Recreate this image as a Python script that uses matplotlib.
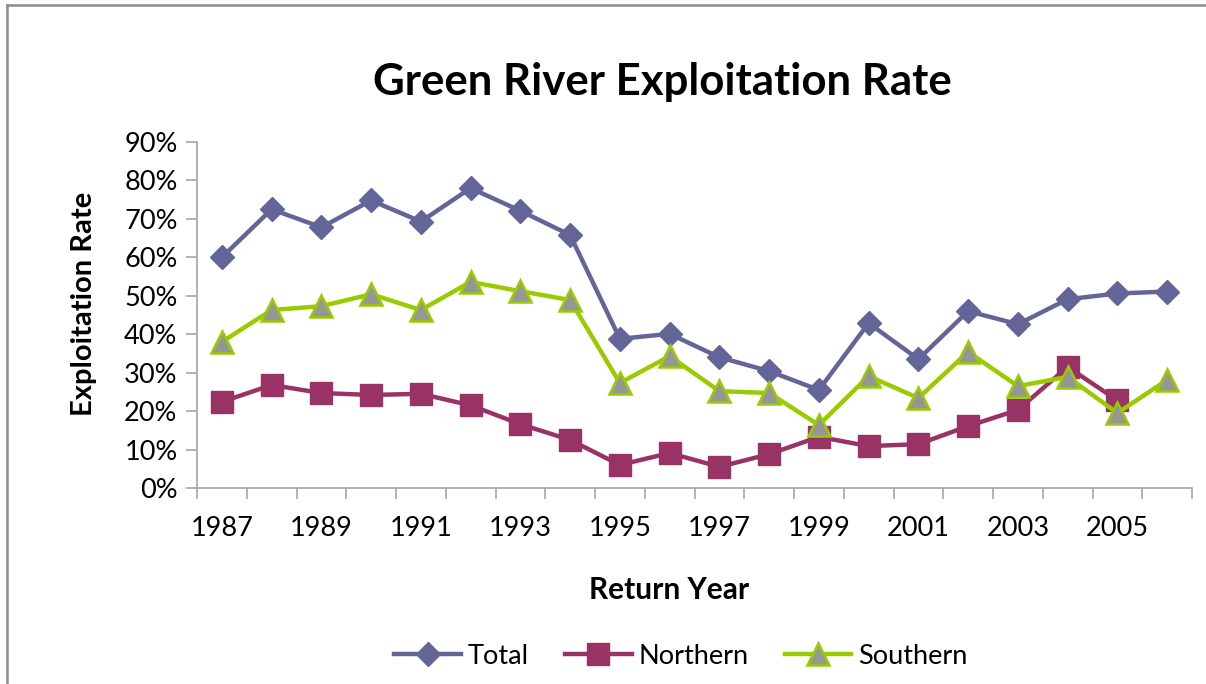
import matplotlib
matplotlib.use("Agg")
import matplotlib.pyplot as plt
from matplotlib.lines import Line2D
from matplotlib.ticker import FuncFormatter, FixedLocator

plt.rcParams['font.family'] = ['Lato', 'DejaVu Sans']

years = list(range(1987, 2007))
total = [60.0, 72.5, 67.8, 74.8, 69.3, 78.0, 72.1, 65.8, 38.8, 40.1, 34.0, 30.4, 25.5, 42.9, 33.5, 46.0, 42.6, 49.1, 50.6, 51.1]
northern = [22.4, 26.8, 24.7, 24.2, 24.5, 21.5, 16.6, 12.5, 6.0, 9.1, 5.5, 8.8, 13.3, 10.9, 11.4, 16.1, 20.3, 31.5, 22.8, None]
southern = [38.0, 46.3, 47.3, 50.4, 46.3, 53.6, 51.2, 48.9, 27.3, 34.3, 25.2, 24.7, 16.4, 29.1, 23.4, 35.4, 26.5, 28.9, 19.5, 28.1]
year_labels = [str(y) if (y - 1987) % 2 == 0 else "" for y in years]

fig = plt.figure(figsize=(12.06, 6.84), dpi=100)
ax = fig.add_axes([197/1206, 1-488/684, (1192-197)/1206, (488-142)/684])

x = list(range(len(years)))
ax.plot(x, total, color='#636599', lw=3.2, marker='D', ms=12, mfc='#636599', mec='#636599', label='Total', zorder=3)
xn = [i for i, v in zip(x, northern) if v is not None]
yn = [v for v in northern if v is not None]
ax.plot(xn, yn, color='#993366', lw=3.2, marker='s', ms=15.5, mfc='#993366', mec='#993366', label='Northern', zorder=2)
ax.plot(x, southern, color='#99cc00', lw=3.2, marker='^', ms=16, mfc='#969696', mec='#99cc00', mew=1.8, label='Southern', zorder=4)

ax.set_xlim(-0.5, len(years) - 0.5)
ax.set_ylim(0, 90)
ax.set_yticks(range(0, 91, 10))
ax.yaxis.set_major_formatter(FuncFormatter(lambda v, p: f"{int(v)}%"))
ax.set_xticks(x)
ax.set_xticklabels(year_labels)
ax.xaxis.set_minor_locator(FixedLocator([i - 0.5 for i in range(len(years) + 1)]))
ax.tick_params(axis='x', which='major', length=0, pad=20, labelsize=19.5)
ax.tick_params(axis='x', which='minor', length=8, color='#a6a6a6', width=1.2, direction='out')
ax.tick_params(axis='y', length=8, color='#a6a6a6', width=1.2, labelsize=19.5, pad=6)
for s in ['top', 'right']:
    ax.spines[s].set_visible(False)
for s in ['left', 'bottom']:
    ax.spines[s].set_color('#a6a6a6')
    ax.spines[s].set_linewidth(1.2)

fig.text(662/1206, 1-82/684, 'Green River Exploitation Rate', ha='center', va='center', fontsize=31.5, fontweight='bold')
fig.text(84/1206, 1-304/684, 'Exploitation Rate', ha='center', va='center', rotation=90, fontsize=21, fontweight='bold')
fig.text(669/1206, 1-590/684, 'Return Year', ha='center', va='center', fontsize=21.5, fontweight='bold')

leg = fig.legend(loc='center', bbox_to_anchor=(681/1206, 1-656/684), ncol=3, frameon=False,
                 fontsize=19.5, handlelength=2.45, columnspacing=1.35, handletextpad=0.25)

fig.add_artist(Line2D([7/1206, 1], [1-5/684, 1-5/684], color='#8c8c8c', lw=1.8, transform=fig.transFigure))
fig.add_artist(Line2D([7/1206, 7/1206], [1-5/684, 0], color='#8c8c8c', lw=1.8, transform=fig.transFigure))

fig.savefig('out.png', dpi=100)
